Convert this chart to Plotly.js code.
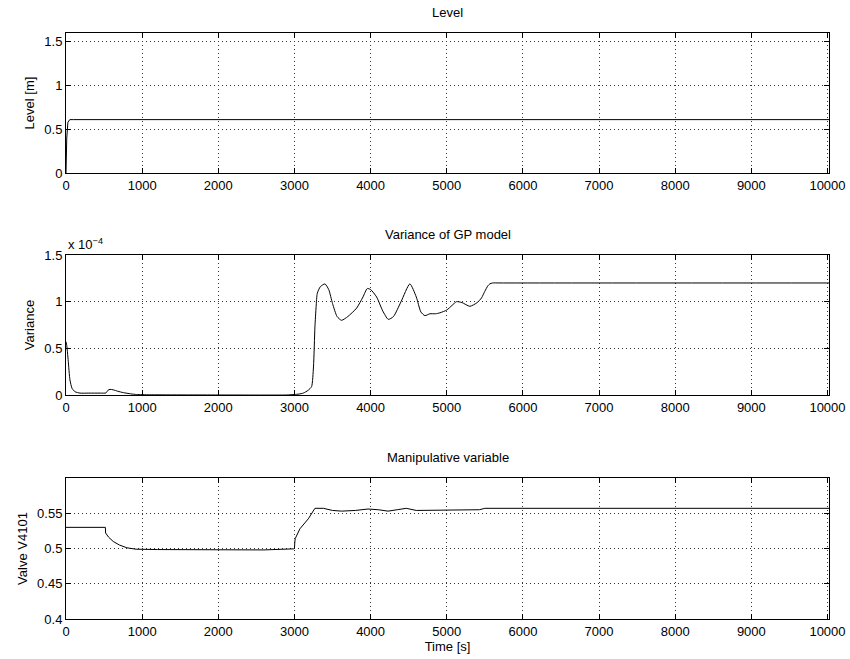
<!DOCTYPE html>
<html><head><meta charset="utf-8">
<script src="https://cdn.plot.ly/plotly-3.0.1.min.js"></script>
<style>html,body{margin:0;padding:0;background:#fff}#chart{width:850px;height:659px}</style>
</head><body><div id="chart"></div>
<script>
// Level [m]
const levelTime = [0, 10, 25, 50, 100, 10020];
const levelValue = [0, 0.4, 0.58, 0.61, 0.61, 0.61];

// Variance of GP model (in units of 1e-4)
const varTime = [0,10,20,30,52,80,118,184,300,450,525,550,578,620,680,753,850,928,1100,2000,2900,3000,3060,3116,3180,3225,3250,3269,3285,3300,3340,3400,3450,3500,3560,3619,3700,3816,3900,3956,4000,4079,4160,4232,4300,4400,4516,4600,4660,4713,4779,4850,4910,5000,5070,5129,5200,5304,5400,5457,5500,5540,5566,5600,5700,10020];
const varValue = [0.57,0.53,0.45,0.36,0.16,0.07,0.035,0.02,0.02,0.02,0.022,0.05,0.06,0.055,0.04,0.025,0.012,0.005,0.002,0.0,0.0,0.005,0.01,0.02,0.05,0.09,0.3,0.73,0.95,1.09,1.16,1.19,1.13,0.98,0.84,0.80,0.84,0.93,1.05,1.14,1.13,1.05,0.9,0.81,0.84,1.0,1.19,1.05,0.89,0.85,0.87,0.87,0.88,0.91,0.96,1.0,0.99,0.95,0.99,1.04,1.11,1.17,1.19,1.2,1.2,1.2];

// Manipulative variable (Valve V4101)
const valveTime = [0,517,520,560,620,700,800,920,1200,2000,2250,2600,2990,3000,3005,3010,3072,3181,3269,3380,3500,3620,3800,3966,4100,4229,4350,4468,4600,4800,4993,5430,5500,10020];
const valveValue = [0.53,0.53,0.522,0.516,0.51,0.505,0.501,0.499,0.4985,0.498,0.4975,0.498,0.4995,0.5,0.509,0.514,0.528,0.542,0.557,0.557,0.554,0.553,0.554,0.556,0.555,0.553,0.555,0.557,0.554,0.554,0.554,0.555,0.557,0.557];

const xTicks = [0,1000,2000,3000,4000,5000,6000,7000,8000,9000,10000];
const titles = ['Level', 'Variance of GP model', 'Manipulative variable'];

const font = {family: 'Liberation Sans, Arial, sans-serif', size: 13, color: '#000'};
const lineStyle = {color: '#000', width: 1};

const traces = [
  {x: levelTime, y: levelValue, xaxis: 'x', yaxis: 'y', mode: 'lines', line: lineStyle},
  {x: varTime, y: varValue, xaxis: 'x2', yaxis: 'y2', mode: 'lines', line: Object.assign({shape: 'spline', smoothing: 0.6}, lineStyle)},
  {x: valveTime, y: valveValue, xaxis: 'x3', yaxis: 'y3', mode: 'lines', line: lineStyle}
];

const gridStyle = {showgrid: true, gridcolor: '#333', griddash: '1px,3px', gridwidth: 1};

function xa(anchor, title) {
  const a = Object.assign({range: [0, 10020], tickvals: xTicks, ticktext: xTicks.map(String), ticks: 'inside', ticklen: 5,
    tickcolor: '#000', showline: true, linecolor: '#000', linewidth: 1, mirror: 'ticks',
    zeroline: false, anchor: anchor, tickfont: font, fixedrange: true}, gridStyle);
  if (title) a.title = {text: title, font: font, standoff: 0};
  return a;
}
function ya(domain, range, tickvals, title, anchor) {
  return Object.assign({domain: domain, range: range, tickvals: tickvals, ticks: 'inside', ticklen: 5,
    tickcolor: '#000', showline: true, linecolor: '#000', linewidth: 1, mirror: 'ticks',
    zeroline: false, anchor: anchor,
    tickfont: font, title: {text: title, font: font, standoff: 6}, fixedrange: true}, gridStyle);
}

const layout = {
  width: 850, height: 659,
  margin: {l: 66, r: 21, t: 33, b: 40},
  paper_bgcolor: '#fff', plot_bgcolor: '#fff',
  showlegend: false, font: font,
  xaxis: xa('y'),
  xaxis2: xa('y2'),
  xaxis3: xa('y3', 'Time [s]'),
  yaxis: ya([0.7611, 1], [0, 1.6], [0, 0.5, 1, 1.5], 'Level [m]', 'x'),
  yaxis2: ya([0.3823, 0.6212], [0, 1.5], [0, 0.5, 1, 1.5], 'Variance', 'x2'),
  yaxis3: ya([0, 0.2406], [0.4, 0.6], [0.4, 0.45, 0.5, 0.55], 'Valve V4101', 'x3'),
  annotations: [
    {text: titles[0], xref: 'paper', yref: 'paper', x: 0.5, y: 1, yshift: 11, showarrow: false, font: font, yanchor: 'bottom'},
    {text: titles[1], xref: 'paper', yref: 'paper', x: 0.5, y: 0.6212, yshift: 11, showarrow: false, font: font, yanchor: 'bottom'},
    {text: titles[2], xref: 'paper', yref: 'paper', x: 0.5, y: 0.2406, yshift: 11, showarrow: false, font: font, yanchor: 'bottom'},
    {text: 'x 10<sup>−4</sup>', xref: 'paper', yref: 'paper', x: 0, y: 0.6212, xanchor: 'left', yanchor: 'bottom', yshift: 1, showarrow: false, font: font}
  ]
};

Plotly.newPlot('chart', traces, layout, {staticPlot: true, displayModeBar: false});
</script></body></html>
